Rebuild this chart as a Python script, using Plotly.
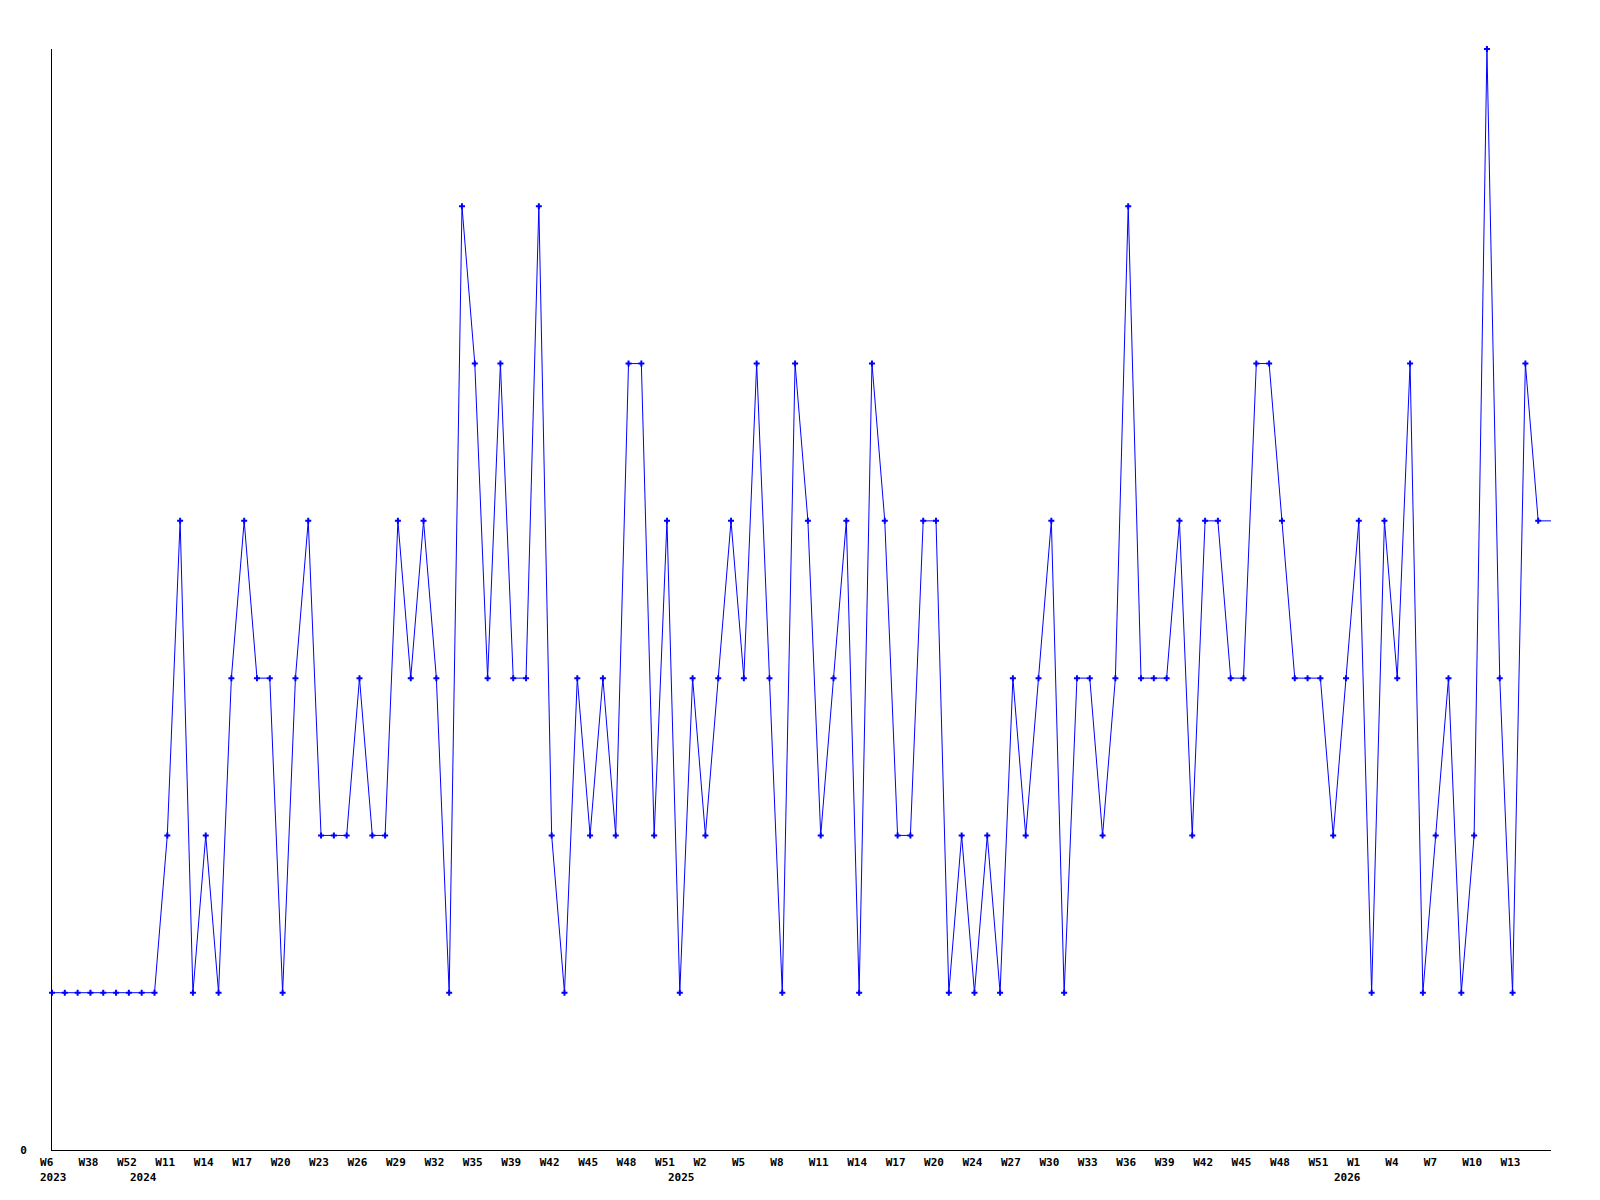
import plotly.graph_objects as go

# Week categories (one per data point)
weeks = [
    "W6", "W18", "W30", "W38", "W43", "W48", "W52",
    "W1", "W6", "W11", "W12", "W13", "W14", "W15", "W16", "W17", "W18", "W19",
    "W20", "W21", "W22", "W23", "W24", "W25", "W26", "W27", "W28", "W29", "W30",
    "W31", "W32", "W33", "W34", "W35", "W36", "W38", "W39", "W40", "W41", "W42",
    "W43", "W44", "W45", "W46", "W47", "W48", "W49", "W50", "W51",
    "W0", "W1", "W2", "W3", "W4", "W5", "W6", "W7", "W8", "W9", "W10", "W11",
    "W12", "W13", "W14", "W15", "W16", "W17", "W18", "W19", "W20", "W21", "W23",
    "W24", "W25", "W26", "W27", "W28", "W29", "W30", "W31", "W32", "W33", "W34",
    "W35", "W36", "W37", "W38", "W39", "W40", "W41", "W42", "W43", "W44", "W45",
    "W46", "W47", "W48", "W49", "W50", "W51", "W52",
    "W0", "W1", "W2", "W3", "W4", "W5", "W6", "W7", "W8", "W9", "W10", "W11",
    "W12", "W13", "W14", "W15", "W16",
]

values = [
    1, 1, 1, 1, 1, 1, 1, 1, 1, 2,
    4, 1, 2, 1, 3, 4, 3, 3, 1, 3,
    4, 2, 2, 2, 3, 2, 2, 4, 3, 4,
    3, 1, 6, 5, 3, 5, 3, 3, 6, 2,
    1, 3, 2, 3, 2, 5, 5, 2, 4, 1,
    3, 2, 3, 4, 3, 5, 3, 1, 5, 4,
    2, 3, 4, 1, 5, 4, 2, 2, 4, 4,
    1, 2, 1, 2, 1, 3, 2, 3, 4, 1,
    3, 3, 2, 3, 6, 3, 3, 3, 4, 2,
    4, 4, 3, 3, 5, 5, 4, 3, 3, 3,
    2, 3, 4, 1, 4, 3, 5, 1, 2, 3,
    1, 2, 7, 3, 1, 5, 4, 4,
]

# Year labels: (index of first point in that year, label)
year_starts = [0, 7, 49, 101]
year_labels = ["2023", "2024", "2025", "2026"]

y_tick_vals = [0]
y_tick_text = ["0"]

n = len(values)
xs = list(range(n))
tick_idx = list(range(0, n - 1, 3))
tick_txt = [weeks[i] + (" " if len(weeks[i]) < 3 else "") for i in tick_idx]

FONT = dict(family="DejaVu Sans Mono", size=11, color="#000000", weight="bold")

fig = go.Figure()
fig.add_trace(go.Scatter(
    x=xs, y=values, mode="lines",
    line=dict(color="#0000ff", width=1),
    hoverinfo="skip", showlegend=False, cliponaxis=False,
))
fig.add_trace(go.Scatter(
    x=xs[:-1], y=values[:-1], mode="markers",
    marker=dict(symbol="cross", size=5, color="#0000ff", line=dict(width=0)),
    showlegend=False, cliponaxis=False,
))

annotations = []
for idx, lab in zip(year_starts, year_labels):
    annotations.append(dict(
        x=idx, y=0, xref="x", yref="paper", text=lab, showarrow=False,
        xanchor="left", yanchor="top", xshift=-14, yshift=-19, font=FONT,
    ))

fig.update_layout(
    width=1600, height=1200, autosize=False,
    margin=dict(l=42, r=57, t=41, b=58),
    paper_bgcolor="#ffffff", plot_bgcolor="#ffffff",
    font=FONT,
    annotations=annotations,
    xaxis=dict(
        range=[0, n - 1], showgrid=False, zeroline=False,
        showline=True, linecolor="#000000", linewidth=1,
        tickmode="array", tickvals=tick_idx, ticktext=tick_txt,
        ticks="", tickfont=FONT, tickangle=0, ticklabelstandoff=2,
        ticklabelshift=-2,
    ),
    yaxis=dict(
        range=[0, 7], showgrid=False, zeroline=False,
        showline=True, linecolor="#000000", linewidth=1,
        tickmode="array", tickvals=y_tick_vals, ticktext=y_tick_text,
        ticks="", tickfont=FONT, ticklabelstandoff=22,
    ),
)

fig.write_html("out.html")
